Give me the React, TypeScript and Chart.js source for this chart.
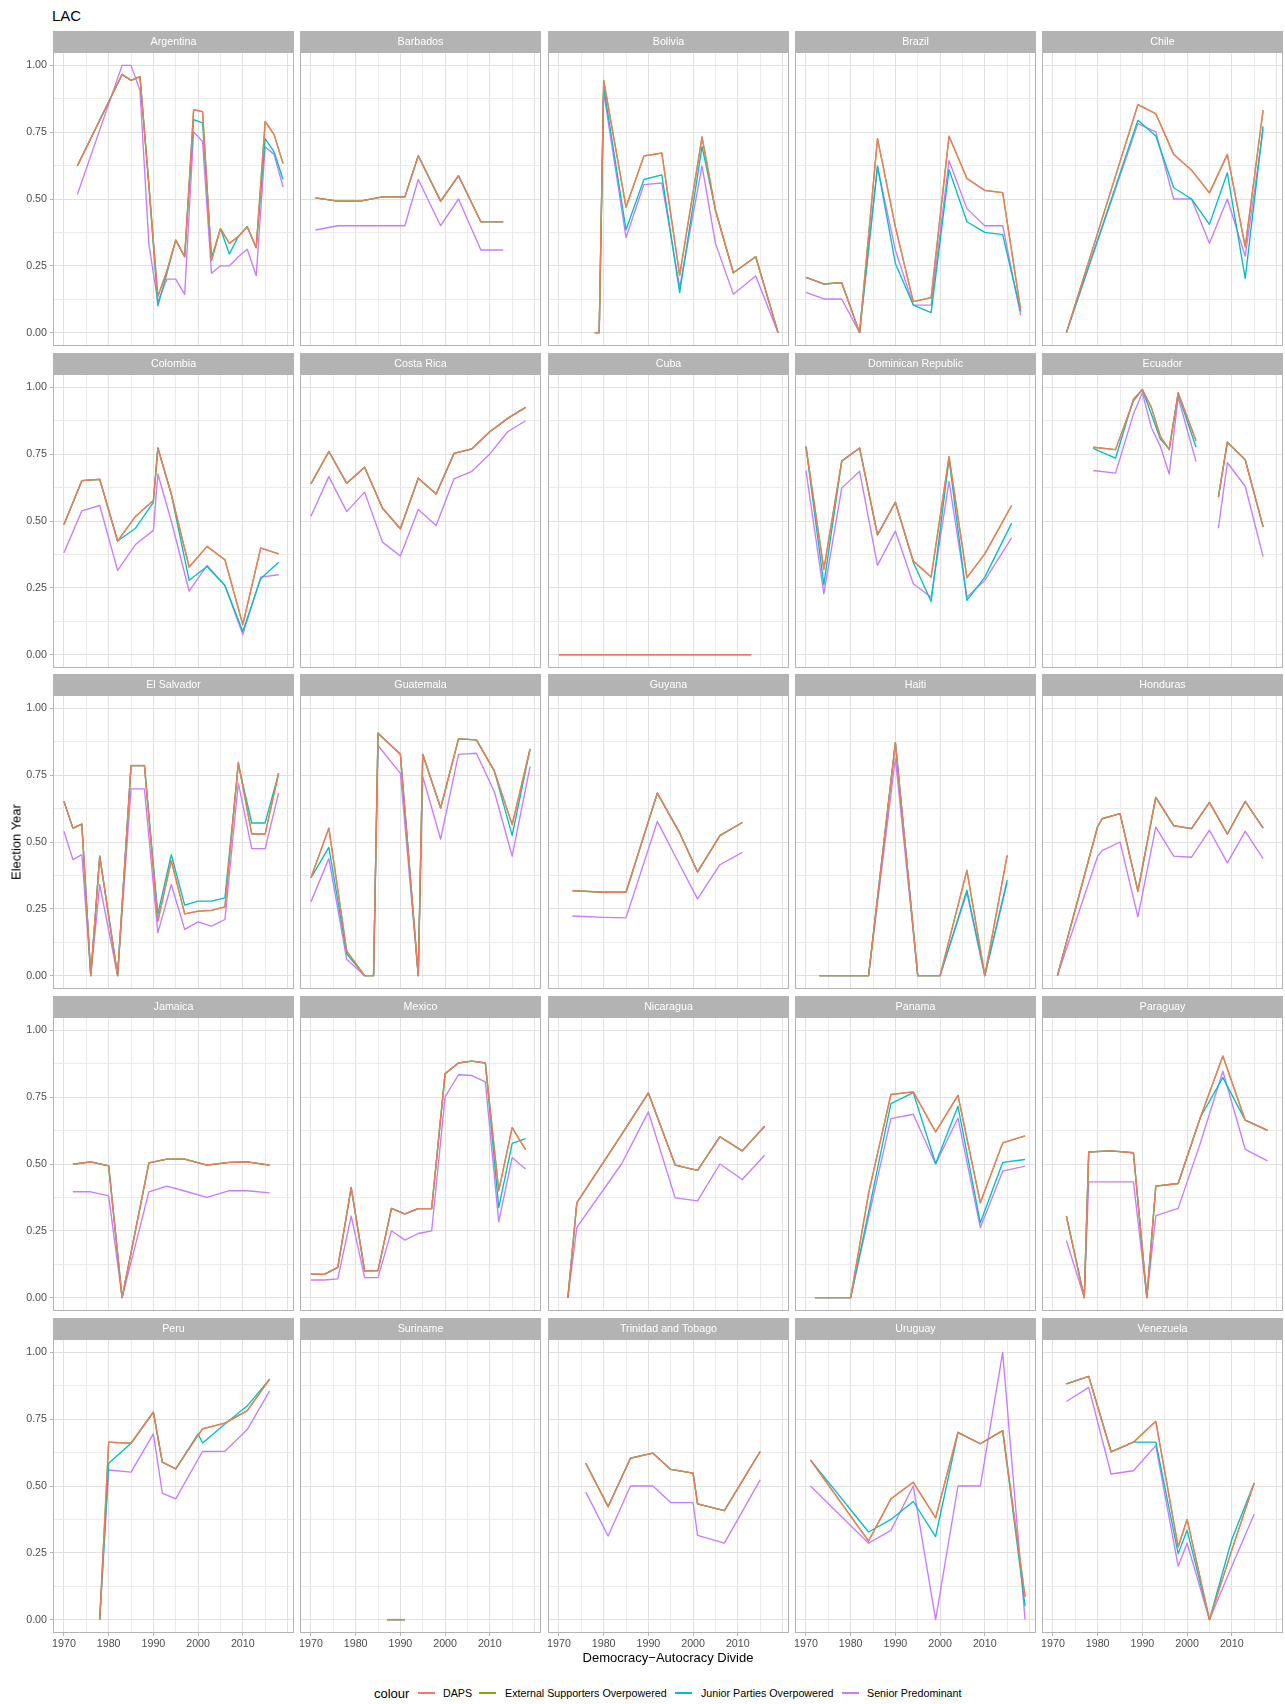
import React, { useEffect, useRef } from "react";
import { Chart, registerables } from "chart.js";

Chart.register(...registerables);

const FONT = '"Liberation Sans", Arial, Helvetica, sans-serif';
const C_DAPS = "#F8766D";
const C_EXT = "#7CAE00";
const C_JUN = "#00BFC4";
const C_SEN = "#C77CFF";

// ---------------- data ----------------
const argYears = [1973, 1983, 1985, 1987, 1989, 1991, 1993, 1995, 1997, 1999, 2001, 2003, 2005, 2007, 2009, 2011, 2013, 2015, 2017, 2019];
const argDAPS = [0.624, 0.966, 0.944, 0.958, 0.55, 0.135, 0.23, 0.346, 0.284, 0.834, 0.827, 0.271, 0.389, 0.334, 0.36, 0.396, 0.318, 0.79, 0.741, 0.633];
const argJunior = [0.624, 0.966, 0.944, 0.958, 0.55, 0.1, 0.22, 0.346, 0.284, 0.797, 0.785, 0.28, 0.389, 0.294, 0.36, 0.396, 0.318, 0.726, 0.676, 0.573];
const argSenior = [0.517, 1.0, 1.0, 0.907, 0.33, 0.115, 0.2, 0.2, 0.143, 0.751, 0.715, 0.222, 0.25, 0.25, 0.284, 0.312, 0.213, 0.695, 0.667, 0.545];

const barYears = [1971, 1976, 1981, 1986, 1991, 1994, 1999, 2003, 2008, 2013];
const barDAPS = [0.504, 0.492, 0.492, 0.508, 0.508, 0.662, 0.492, 0.587, 0.415, 0.415];
const barJunior = [0.504, 0.492, 0.492, 0.508, 0.508, 0.662, 0.492, 0.587, 0.415, 0.415];
const barSenior = [0.384, 0.4, 0.4, 0.4, 0.4, 0.573, 0.4, 0.5, 0.309, 0.309];

const bolYears = [1978, 1979, 1980, 1985, 1989, 1993, 1997, 2002, 2005, 2009, 2014, 2019];
const bolDAPS = [0, 0, 0.944, 0.47, 0.661, 0.672, 0.215, 0.732, 0.458, 0.224, 0.284, 0];
const bolJunior = [0, 0, 0.92, 0.385, 0.573, 0.59, 0.15, 0.697, 0.458, 0.224, 0.284, 0];
const bolSenior = [0, 0, 0.9, 0.356, 0.554, 0.56, 0.17, 0.624, 0.334, 0.144, 0.212, 0];

const braYears = [1970, 1974, 1978, 1982, 1986, 1990, 1994, 1998, 2002, 2006, 2010, 2014, 2018];
const braDAPS = [0.207, 0.182, 0.187, 0, 0.726, 0.396, 0.116, 0.131, 0.735, 0.577, 0.532, 0.524, 0.087];
const braJunior = [0.207, 0.182, 0.187, 0, 0.624, 0.259, 0.103, 0.075, 0.61, 0.415, 0.375, 0.367, 0.08];
const braSenior = [0.151, 0.126, 0.126, 0, 0.62, 0.309, 0.103, 0.103, 0.643, 0.464, 0.4, 0.4, 0.066];

const chiYears = [1973, 1989, 1993, 1997, 2001, 2005, 2009, 2013, 2017];
const chiDAPS = [0, 0.853, 0.819, 0.667, 0.608, 0.523, 0.667, 0.321, 0.832];
const chiJunior = [0, 0.795, 0.736, 0.542, 0.5, 0.405, 0.598, 0.203, 0.772];
const chiSenior = [0, 0.782, 0.751, 0.5, 0.5, 0.334, 0.5, 0.286, 0.76];

const colYears = [1970, 1974, 1978, 1982, 1986, 1990, 1991, 1994, 1998, 2002, 2006, 2010, 2014, 2018];
const colDAPS = [0.487, 0.651, 0.656, 0.425, 0.517, 0.577, 0.773, 0.601, 0.328, 0.405, 0.355, 0.112, 0.399, 0.377];
const colJunior = [0.487, 0.651, 0.656, 0.425, 0.473, 0.57, 0.773, 0.601, 0.278, 0.33, 0.259, 0.087, 0.284, 0.346];
const colSenior = [0.381, 0.538, 0.558, 0.315, 0.412, 0.465, 0.676, 0.5, 0.238, 0.334, 0.259, 0.075, 0.29, 0.299];

const cosYears = [1970, 1974, 1978, 1982, 1986, 1990, 1994, 1998, 2002, 2006, 2010, 2014, 2018];
const cosDAPS = [0.639, 0.76, 0.641, 0.701, 0.548, 0.471, 0.66, 0.601, 0.753, 0.77, 0.834, 0.884, 0.925];
const cosJunior = [0.639, 0.76, 0.641, 0.701, 0.548, 0.471, 0.66, 0.601, 0.753, 0.77, 0.834, 0.884, 0.925];
const cosSenior = [0.518, 0.666, 0.535, 0.608, 0.421, 0.369, 0.543, 0.483, 0.658, 0.686, 0.751, 0.834, 0.875];

const cubYears = [1970, 1976, 1981, 1986, 1993, 1998, 2003, 2008, 2013];
const cubDAPS = [0, 0, 0, 0, 0, 0, 0, 0, 0];
const cubJunior = [0, 0, 0, 0, 0, 0, 0, 0, 0];
const cubSenior = [0, 0, 0, 0, 0, 0, 0, 0, 0];

const domYears = [1970, 1974, 1978, 1982, 1986, 1990, 1994, 1998, 2002, 2006, 2010, 2016];
const domDAPS = [0.778, 0.319, 0.724, 0.773, 0.448, 0.57, 0.35, 0.29, 0.741, 0.288, 0.377, 0.558];
const domJunior = [0.778, 0.262, 0.724, 0.773, 0.448, 0.57, 0.346, 0.199, 0.732, 0.203, 0.29, 0.492];
const domSenior = [0.689, 0.228, 0.623, 0.686, 0.334, 0.462, 0.265, 0.215, 0.648, 0.215, 0.278, 0.437];

const ecuYears = [1979, 1984, 1988, 1990, 1992, 1994, 1996, 1998, 2002, 2006, 2007, 2009, 2013, 2017];
const ecuDAPS = [0.776, 0.767, 0.95, 0.992, 0.925, 0.817, 0.767, 0.98, 0.8, null, 0.589, 0.795, 0.729, 0.478];
const ecuJunior = [0.772, 0.735, 0.956, 0.992, 0.9, 0.807, 0.77, 0.975, 0.776, null, 0.589, 0.795, 0.729, 0.478];
const ecuSenior = [0.689, 0.679, 0.9, 0.98, 0.85, 0.78, 0.676, 0.963, 0.722, null, 0.473, 0.718, 0.63, 0.367];

const salYears = [1970, 1972, 1974, 1976, 1978, 1982, 1985, 1988, 1991, 1994, 1997, 2000, 2003, 2006, 2009, 2012, 2015, 2018];
const salDAPS = [0.652, 0.552, 0.567, 0, 0.447, 0, 0.786, 0.786, 0.204, 0.43, 0.231, 0.241, 0.244, 0.257, 0.798, 0.53, 0.53, 0.757];
const salJunior = [0.652, 0.552, 0.567, 0, 0.447, 0, 0.786, 0.786, 0.23, 0.453, 0.264, 0.279, 0.279, 0.291, 0.789, 0.571, 0.571, 0.757];
const salSenior = [0.54, 0.434, 0.453, 0, 0.341, 0, 0.699, 0.699, 0.16, 0.341, 0.173, 0.201, 0.185, 0.21, 0.72, 0.475, 0.475, 0.683];

const guaYears = [1970, 1974, 1978, 1982, 1984, 1985, 1990, 1994, 1995, 1999, 2003, 2007, 2011, 2015, 2019];
const guaDAPS = [0.366, 0.552, 0.092, 0, 0, 0.907, 0.828, 0, 0.828, 0.627, 0.886, 0.882, 0.766, 0.565, 0.848];
const guaJunior = [0.366, 0.48, 0.082, 0, 0, 0.907, 0.828, 0, 0.828, 0.627, 0.886, 0.882, 0.766, 0.525, 0.848];
const guaSenior = [0.276, 0.438, 0.061, 0, 0, 0.861, 0.757, 0, 0.745, 0.511, 0.828, 0.832, 0.689, 0.447, 0.782];

const guyYears = [1973, 1980, 1985, 1992, 1997, 2001, 2006, 2011];
const guyDAPS = [0.318, 0.312, 0.312, 0.683, 0.534, 0.388, 0.524, 0.573];
const guyJunior = [0.318, 0.312, 0.312, 0.683, 0.534, 0.388, 0.524, 0.573];
const guySenior = [0.223, 0.218, 0.216, 0.577, 0.415, 0.287, 0.415, 0.461];

const haiYears = [1973, 1979, 1984, 1990, 1995, 2000, 2006, 2010, 2015];
const haiDAPS = [0, 0, 0, 0.872, 0, 0, 0.394, 0, 0.45];
const haiJunior = [0, 0, 0, 0.872, 0, 0, 0.32, 0, 0.357];
const haiSenior = [0, 0, 0, 0.813, 0, 0, 0.31, 0, 0.347];

const honYears = [1971, 1980, 1981, 1985, 1989, 1993, 1997, 2001, 2005, 2009, 2013, 2017];
const honDAPS = [0, 0.558, 0.587, 0.606, 0.316, 0.667, 0.561, 0.55, 0.648, 0.53, 0.652, 0.552];
const honJunior = [0, 0.558, 0.587, 0.606, 0.316, 0.667, 0.561, 0.55, 0.648, 0.53, 0.652, 0.552];
const honSenior = [0, 0.447, 0.468, 0.5, 0.22, 0.556, 0.447, 0.443, 0.544, 0.422, 0.54, 0.438];

const jamYears = [1972, 1976, 1980, 1983, 1989, 1993, 1997, 2002, 2007, 2011, 2016];
const jamDAPS = [0.499, 0.508, 0.493, 0, 0.504, 0.518, 0.518, 0.496, 0.506, 0.508, 0.496];
const jamJunior = [0.499, 0.508, 0.493, 0, 0.504, 0.518, 0.518, 0.496, 0.506, 0.508, 0.496];
const jamSenior = [0.396, 0.396, 0.381, 0, 0.396, 0.417, 0.399, 0.375, 0.4, 0.4, 0.392];

const mexYears = [1970, 1973, 1976, 1979, 1982, 1985, 1988, 1991, 1994, 1997, 2000, 2003, 2006, 2009, 2012, 2015, 2018];
const mexDAPS = [0.088, 0.087, 0.113, 0.412, 0.1, 0.101, 0.334, 0.313, 0.333, 0.333, 0.838, 0.878, 0.885, 0.878, 0.4, 0.636, 0.554];
const mexJunior = [0.088, 0.087, 0.113, 0.412, 0.1, 0.101, 0.334, 0.313, 0.333, 0.333, 0.838, 0.878, 0.885, 0.878, 0.337, 0.577, 0.595];
const mexSenior = [0.066, 0.066, 0.07, 0.305, 0.075, 0.075, 0.25, 0.215, 0.24, 0.25, 0.751, 0.834, 0.831, 0.807, 0.284, 0.524, 0.481];

const nicYears = [1972, 1974, 1984, 1990, 1996, 2001, 2006, 2011, 2016];
const nicDAPS = [0, 0.355, 0.61, 0.766, 0.496, 0.476, 0.602, 0.549, 0.641];
const nicJunior = [0, 0.355, 0.61, 0.766, 0.496, 0.476, 0.602, 0.549, 0.641];
const nicSenior = [0, 0.263, 0.5, 0.695, 0.373, 0.362, 0.5, 0.442, 0.533];

const panYears = [1972, 1980, 1984, 1989, 1994, 1999, 2004, 2009, 2014, 2019];
const panDAPS = [0, 0, 0.39, 0.76, 0.77, 0.62, 0.757, 0.355, 0.579, 0.605];
const panJunior = [0, 0, 0.32, 0.726, 0.767, 0.502, 0.716, 0.28, 0.506, 0.517];
const panSenior = [0, 0, 0.3, 0.67, 0.686, 0.5, 0.672, 0.262, 0.473, 0.492];

const parYears = [1973, 1977, 1978, 1983, 1988, 1991, 1993, 1998, 2003, 2008, 2013, 2018];
const parDAPS = [0.305, 0, 0.545, 0.549, 0.542, 0, 0.417, 0.427, 0.676, 0.904, 0.664, 0.626];
const parJunior = [0.305, 0, 0.545, 0.549, 0.542, 0, 0.417, 0.427, 0.676, 0.823, 0.664, 0.626];
const parSenior = [0.214, 0, 0.433, 0.433, 0.433, 0, 0.307, 0.334, 0.58, 0.847, 0.555, 0.512];

const perYears = [1978, 1980, 1985, 1990, 1992, 1995, 2000, 2001, 2006, 2011, 2016];
const perDAPS = [0, 0.664, 0.66, 0.776, 0.589, 0.564, 0.69, 0.714, 0.735, 0.782, 0.9];
const perJunior = [0, 0.585, 0.66, 0.776, 0.589, 0.564, 0.695, 0.661, 0.732, 0.8, 0.9];
const perSenior = [0, 0.56, 0.552, 0.695, 0.473, 0.452, 0.6, 0.629, 0.63, 0.711, 0.856];

const surYears = [1987, 1991];
const surDAPS = [0, 0];
const surJunior = [0, 0];
const surSenior = [0, 0];

const triYears = [1976, 1981, 1986, 1991, 1995, 2000, 2001, 2007, 2015];
const triDAPS = [0.585, 0.423, 0.604, 0.623, 0.562, 0.548, 0.433, 0.408, 0.629];
const triJunior = [0.585, 0.423, 0.604, 0.623, 0.562, 0.548, 0.433, 0.408, 0.629];
const triSenior = [0.477, 0.313, 0.5, 0.5, 0.438, 0.438, 0.315, 0.286, 0.523];

const uruYears = [1971, 1984, 1989, 1994, 1999, 2004, 2009, 2014, 2019];
const uruDAPS = [0.598, 0.294, 0.452, 0.514, 0.381, 0.701, 0.658, 0.707, 0.085];
const uruJunior = [0.598, 0.328, 0.375, 0.442, 0.311, 0.7, 0.658, 0.707, 0.05];
const uruSenior = [0.5, 0.286, 0.334, 0.5, 0, 0.5, 0.5, 1.0, 0];

const venYears = [1973, 1978, 1983, 1988, 1993, 1998, 2000, 2005, 2010, 2015];
const venDAPS = [0.882, 0.91, 0.628, 0.664, 0.742, 0.272, 0.375, 0, 0.26, 0.511];
const venJunior = [0.882, 0.91, 0.628, 0.664, 0.664, 0.247, 0.334, 0, 0.3, 0.511];
const venSenior = [0.816, 0.869, 0.545, 0.557, 0.651, 0.2, 0.286, 0, 0.2, 0.394];

// External Supporters Overpowered coincides with DAPS in every panel
const COUNTRIES = [
  "Argentina", "Barbados", "Bolivia", "Brazil", "Chile",
  "Colombia", "Costa Rica", "Cuba", "Dominican Republic", "Ecuador",
  "El Salvador", "Guatemala", "Guyana", "Haiti", "Honduras",
  "Jamaica", "Mexico", "Nicaragua", "Panama", "Paraguay",
  "Peru", "Suriname", "Trinidad and Tobago", "Uruguay", "Venezuela",
];
const YEARS = [argYears, barYears, bolYears, braYears, chiYears, colYears, cosYears, cubYears, domYears, ecuYears, salYears, guaYears, guyYears, haiYears, honYears, jamYears, mexYears, nicYears, panYears, parYears, perYears, surYears, triYears, uruYears, venYears];
const DAPS = [argDAPS, barDAPS, bolDAPS, braDAPS, chiDAPS, colDAPS, cosDAPS, cubDAPS, domDAPS, ecuDAPS, salDAPS, guaDAPS, guyDAPS, haiDAPS, honDAPS, jamDAPS, mexDAPS, nicDAPS, panDAPS, parDAPS, perDAPS, surDAPS, triDAPS, uruDAPS, venDAPS];
const EXTERNAL = DAPS;
const JUNIOR = [argJunior, barJunior, bolJunior, braJunior, chiJunior, colJunior, cosJunior, cubJunior, domJunior, ecuJunior, salJunior, guaJunior, guyJunior, haiJunior, honJunior, jamJunior, mexJunior, nicJunior, panJunior, parJunior, perJunior, surJunior, triJunior, uruJunior, venJunior];
const SENIOR = [argSenior, barSenior, bolSenior, braSenior, chiSenior, colSenior, cosSenior, cubSenior, domSenior, ecuSenior, salSenior, guaSenior, guySenior, haiSenior, honSenior, jamSenior, mexSenior, nicSenior, panSenior, parSenior, perSenior, surSenior, triSenior, uruSenior, venSenior];

const X_GRID = [1970, 1975, 1980, 1985, 1990, 1995, 2000, 2005, 2010, 2015, 2020];
const X_LABELS = [1970, 1980, 1990, 2000, 2010];
const Y_GRID = [0, 0.125, 0.25, 0.375, 0.5, 0.625, 0.75, 0.875, 1];
const Y_LABELS = [0, 0.25, 0.5, 0.75, 1];
const X_MIN = 1967.55;
const X_MAX = 2021.45;
const Y_MIN = -0.05;
const Y_MAX = 1.05;

// ---------------- layout ----------------
const COL_LEFT = [53, 300, 548, 795, 1042];
const ROW_TOP = [31, 353, 674, 996, 1318];
const PANEL_W = 241;
const STRIP_H = 21;
const PANEL_H = 294;
const YAXIS_W = 48;
const XAXIS_H = 22;

const GRID_MAJOR = "#e0e0e0";
const GRID_MINOR = "#ebebeb";
const TICK_COLOR = "#b3b3b3";
const TEXT_GREY = "#4d4d4d";

function stripPlugin(name: string) {
  return {
    id: "strip",
    afterDraw(chart: any) {
      const { ctx, chartArea: a } = chart;
      ctx.save();
      ctx.fillStyle = "#b3b3b3";
      ctx.fillRect(a.left, a.top - STRIP_H, a.right - a.left, STRIP_H);
      ctx.fillStyle = "#ffffff";
      ctx.font = `10.7px ${FONT}`;
      ctx.textAlign = "center";
      ctx.textBaseline = "middle";
      ctx.fillText(name, (a.left + a.right) / 2, a.top - STRIP_H / 2 + 0.5);
      ctx.strokeStyle = "#b3b3b3";
      ctx.lineWidth = 1;
      ctx.strokeRect(a.left + 0.5, a.top + 0.5, a.right - a.left - 1, a.bottom - a.top - 1);
      ctx.restore();
    },
  };
}

function Facet({ idx }: { idx: number }) {
  const ref = useRef<HTMLCanvasElement | null>(null);
  const row = Math.floor(idx / 5);
  const col = idx % 5;
  const isLeft = col === 0;
  const isBottom = row === 4;
  const w = PANEL_W + (isLeft ? YAXIS_W : 0);
  const h = STRIP_H + PANEL_H + (isBottom ? XAXIS_H : 0);

  useEffect(() => {
    if (!ref.current) return;
    const years = YEARS[idx];
    const pts = (vals: (number | null)[]) => years.map((x, i) => ({ x, y: vals[i] }));
    const ds = (label: string, vals: (number | null)[], color: string, width: number) => ({
      label,
      data: pts(vals),
      borderColor: color,
      backgroundColor: color,
      borderWidth: width,
      borderJoinStyle: "round",
      borderCapStyle: "butt",
      pointRadius: 0,
      pointHoverRadius: 0,
      tension: 0,
      fill: false,
      spanGaps: false,
    });
    const chart = new Chart(ref.current, {
      type: "line",
      data: {
        datasets: [
          ds("DAPS", DAPS[idx], "rgba(248,118,109,0.9)", 1.4),
          ds("External Supporters Overpowered", EXTERNAL[idx], C_EXT, 1.3),
          ds("Junior Parties Overpowered", JUNIOR[idx], C_JUN, 1.35),
          ds("Senior Predominant", SENIOR[idx], C_SEN, 1.35),
        ],
      },
      options: {
        animation: false,
        responsive: false,
        devicePixelRatio: 1,
        events: [],
        layout: { padding: { top: STRIP_H, left: 0, right: 0, bottom: 0 }, autoPadding: false },
        plugins: { legend: { display: false }, tooltip: { enabled: false }, title: { display: false } },
        scales: {
          x: {
            type: "linear",
            min: X_MIN,
            max: X_MAX,
            afterBuildTicks: (s: any) => {
              s.ticks = X_GRID.map((v) => ({ value: v }));
            },
            afterFit: (s: any) => {
              s.height = isBottom ? XAXIS_H : 0;
              s.paddingLeft = 0;
              s.paddingRight = 0;
            },
            border: { display: false },
            grid: {
              color: (c: any) => (c.tick && c.tick.value % 10 === 0 ? GRID_MAJOR : GRID_MINOR),
              lineWidth: 1,
              drawTicks: isBottom,
              tickLength: 3,
              tickColor: (c: any) => (c.tick && X_LABELS.includes(c.tick.value) ? TICK_COLOR : "rgba(0,0,0,0)"),
            },
            ticks: {
              display: isBottom,
              autoSkip: false,
              maxRotation: 0,
              minRotation: 0,
              padding: 2,
              color: TEXT_GREY,
              font: { family: FONT, size: 10.7 },
              callback: (v: any) => (X_LABELS.includes(v) ? String(v) : ""),
            },
          },
          y: {
            type: "linear",
            min: Y_MIN,
            max: Y_MAX,
            afterBuildTicks: (s: any) => {
              s.ticks = Y_GRID.map((v) => ({ value: v }));
            },
            afterFit: (s: any) => {
              s.width = isLeft ? YAXIS_W : 0;
              s.paddingTop = 0;
              s.paddingBottom = 0;
            },
            border: { display: false },
            grid: {
              color: (c: any) => (c.tick && Y_LABELS.includes(c.tick.value) ? GRID_MAJOR : GRID_MINOR),
              lineWidth: 1,
              drawTicks: isLeft,
              tickLength: 3,
              tickColor: (c: any) => (c.tick && Y_LABELS.includes(c.tick.value) ? TICK_COLOR : "rgba(0,0,0,0)"),
            },
            ticks: {
              display: isLeft,
              padding: 3,
              color: TEXT_GREY,
              font: { family: FONT, size: 10.7 },
              callback: (v: any) => (Y_LABELS.includes(v) ? Number(v).toFixed(2) : ""),
            },
          },
        },
      } as any,
      plugins: [stripPlugin(COUNTRIES[idx])],
    });
    return () => chart.destroy();
  }, [idx]);

  return (
    <canvas
      ref={ref}
      width={w}
      height={h}
      style={{
        position: "absolute",
        left: COL_LEFT[col] - (isLeft ? YAXIS_W : 0),
        top: ROW_TOP[row],
        width: w,
        height: h,
      }}
    />
  );
}

const LEGEND_ITEMS = [
  { label: "DAPS", color: C_DAPS, key: 418, text: 443 },
  { label: "External Supporters Overpowered", color: C_EXT, key: 479, text: 505 },
  { label: "Junior Parties Overpowered", color: C_JUN, key: 675, text: 701 },
  { label: "Senior Predominant", color: C_SEN, key: 842, text: 867 },
];

export default function App() {
  const txt = (size: number, color = "#000"): React.CSSProperties => ({
    position: "absolute",
    fontFamily: FONT,
    fontSize: size,
    lineHeight: `${size}px`,
    color,
    whiteSpace: "nowrap",
  });
  return (
    <div style={{ position: "absolute", left: 0, top: 0, width: 1285, height: 1704, background: "#fff", overflow: "hidden" }}>
      <div style={{ ...txt(15), left: 52, top: 8 }}>LAC</div>
      {COUNTRIES.map((_, i) => (
        <Facet key={i} idx={i} />
      ))}
      <div style={{ ...txt(13), left: 16, top: 842, transform: "translate(-50%, -50%) rotate(-90deg)" }}>Election Year</div>
      <div style={{ ...txt(13), left: 668, top: 1651, transform: "translateX(-50%)" }}>Democracy−Autocracy Divide</div>
      <div style={{ ...txt(13), left: 374, top: 1687 }}>colour</div>
      {LEGEND_ITEMS.map((it) => (
        <React.Fragment key={it.label}>
          <div style={{ position: "absolute", left: it.key, top: 1692, width: 17, height: 2, background: it.color }} />
          <div style={{ ...txt(10.7), left: it.text, top: 1688 }}>{it.label}</div>
        </React.Fragment>
      ))}
    </div>
  );
}
